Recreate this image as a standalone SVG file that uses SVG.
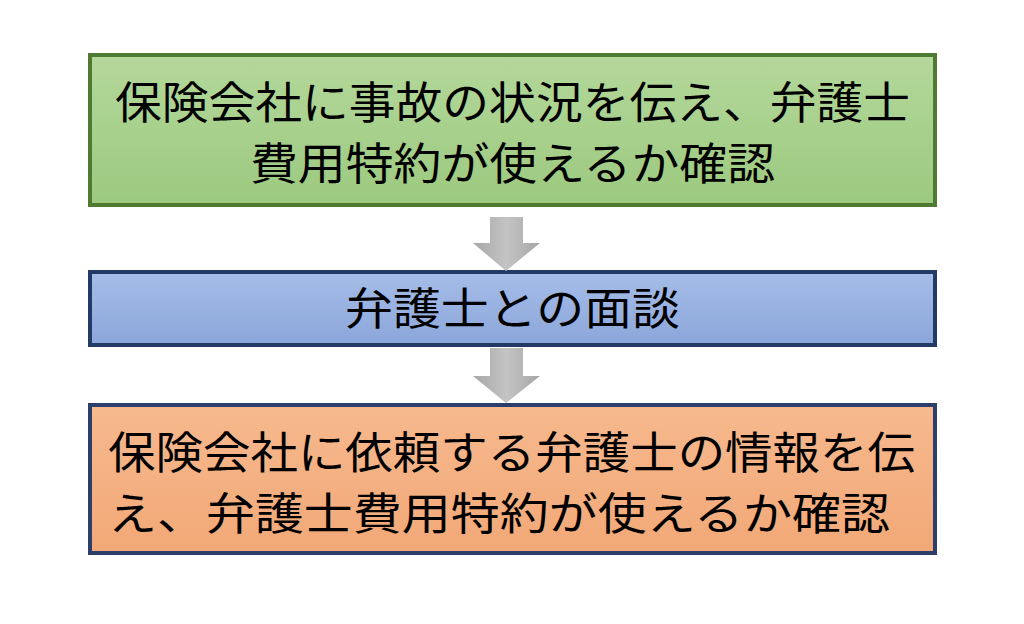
<svg xmlns="http://www.w3.org/2000/svg" width="1024" height="624" viewBox="0 0 1024 624">
<style>
text{font-family:"Noto Sans CJK JP","Noto Sans CJK SC",sans-serif;font-size:44px;fill:#000}
.arr{fill:url(#ga)}
</style>
<defs>
<linearGradient id="gg" x1="0" y1="0" x2="0" y2="1"><stop offset="0" stop-color="#b4d89b"/><stop offset="1" stop-color="#9cc97f"/></linearGradient>
<linearGradient id="gb" x1="0" y1="0" x2="0" y2="1"><stop offset="0" stop-color="#a6bde8"/><stop offset="1" stop-color="#8ba6da"/></linearGradient>
<linearGradient id="go" x1="0" y1="0" x2="0" y2="1"><stop offset="0" stop-color="#f6b98e"/><stop offset="1" stop-color="#f2a877"/></linearGradient>
<linearGradient id="ga" x1="0" y1="0" x2="1" y2="0"><stop offset="0" stop-color="#a6a6a6"/><stop offset="0.5" stop-color="#c4c4c4"/><stop offset="1" stop-color="#a6a6a6"/></linearGradient>
</defs>
<rect width="1024" height="624" fill="#fff"/>
<g id="n1"><rect x="90" y="55" width="845" height="150" fill="url(#gg)" stroke="#4f7a32" stroke-width="4"/>
<text x="115" y="119" textLength="795" lengthAdjust="spacingAndGlyphs">保険会社に事故の状況を伝え、弁護士</text><text x="250" y="180" textLength="525" lengthAdjust="spacingAndGlyphs">費用特約が使えるか確認</text></g>
<g id="n2"><rect x="90" y="272" width="845" height="73" fill="url(#gb)" stroke="#243a66" stroke-width="4"/>
<text x="345" y="325" textLength="335" lengthAdjust="spacingAndGlyphs">弁護士との面談</text></g>
<g id="n3"><rect x="90" y="405" width="845" height="148" fill="url(#go)" stroke="#2b3f6a" stroke-width="4"/>
<text x="108" y="469" textLength="807" lengthAdjust="spacingAndGlyphs">保険会社に依頼する弁護士の情報を伝</text><text x="108" y="530" textLength="782" lengthAdjust="spacingAndGlyphs">え、弁護士費用特約が使えるか確認</text></g>
<g id="connectors">
<polygon class="arr" points="490,217 523,217 523,243 540,243 506,271 473,243 490,243"/>
<polygon class="arr" points="490,348 523,348 523,376 540,376 506,403 473,376 490,376"/>
</g>
</svg>
